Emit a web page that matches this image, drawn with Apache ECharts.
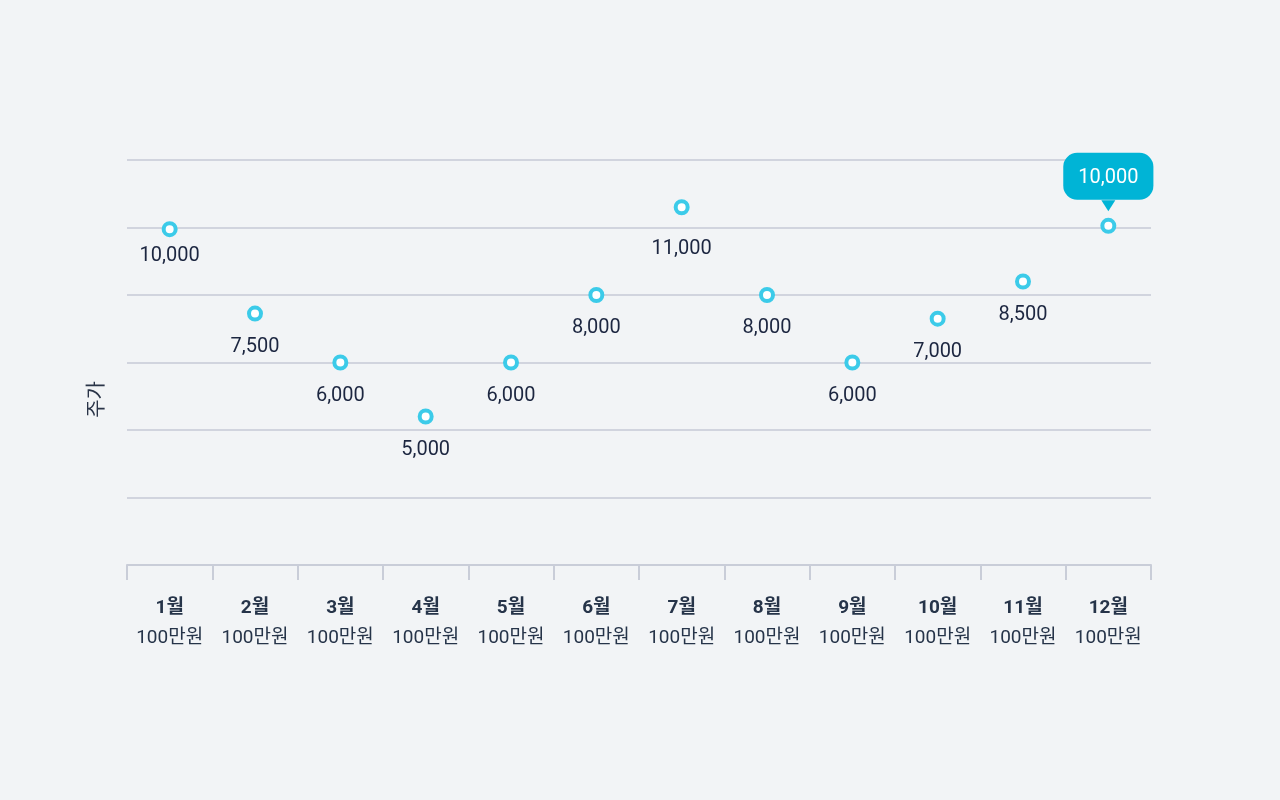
<!DOCTYPE html>
<html>
<head>
<meta charset="utf-8">
<script src="https://cdn.jsdelivr.net/npm/echarts@6/dist/echarts.min.js"></script>
<style>
  html, body { margin: 0; padding: 0; background: #f2f4f6; }
  #chart { width: 1280px; height: 800px; }
</style>
</head>
<body>
<div id="chart"></div>
<script>
var months = ['1월', '2월', '3월', '4월', '5월', '6월', '7월', '8월', '9월', '10월', '11월', '12월'];
var unitLabel = '100만원';
// where each point sits on the chart
var pointValues = [9950, 7450, 6000, 4400, 6000, 8000, 10600, 8000, 6000, 7300, 8400, 10050];
// the number printed next to each point
var labelValues = [10000, 7500, 6000, 5000, 6000, 8000, 11000, 8000, 6000, 7000, 8500, 10000];
var highlightIndex = 11;

var fontFamily = 'Roboto, "Noto Sans CJK KR", sans-serif';
var chart = echarts.init(document.getElementById('chart'));

// a couple of labels sit a little closer / further from their point
var labelGap = { 0: 9, 6: 24 };

var seriesData = pointValues.map(function (v, i) {
    var item = { value: v, labelText: labelValues[i].toLocaleString('en-US') };
    if (labelGap[i] !== undefined) {
        item.label = { distance: labelGap[i] };
    }
    if (i === highlightIndex) {
        item.label = {
            position: 'top',
            distance: 18,
            color: '#ffffff',
            backgroundColor: '#00b4d6',
            borderRadius: 14,
            padding: [15, 15, 12, 15]
        };
    }
    return item;
});

var option = {
    backgroundColor: '#f2f4f6',
    textStyle: { fontFamily: fontFamily },
    grid: { left: 127, right: 129, top: 160, bottom: 235 },
    xAxis: {
        type: 'category',
        data: months,
        boundaryGap: true,
        axisLine: { lineStyle: { color: '#c9cdd8', width: 2 } },
        axisTick: { show: true, length: 15, lineStyle: { color: '#c9cdd8', width: 2 } },
        axisLabel: {
            margin: 28,
            formatter: function (v) { return '{m|' + v + '}\n{n|' + unitLabel + '}'; },
            rich: {
                m: { fontSize: 19, fontWeight: 'bold', color: '#263449', lineHeight: 30, fontFamily: fontFamily },
                n: { fontSize: 19, color: '#263449', lineHeight: 30, fontFamily: fontFamily }
            }
        }
    },
    yAxis: {
        type: 'value',
        min: 0,
        max: 12000,
        interval: 2000,
        axisLine: { show: false },
        axisTick: { show: false },
        axisLabel: { show: false },
        splitLine: { lineStyle: { color: '#c6cad6', width: 1.5 } }
    },
    graphic: [{
        type: 'text',
        left: 88,
        top: 381,
        rotation: Math.PI / 2,
        style: { text: '주가', fontSize: 20, fill: '#2a3448', fontFamily: fontFamily }
    }],
    series: [{
        type: 'scatter',
        data: seriesData,
        symbol: 'circle',
        symbolSize: 12,
        itemStyle: { color: '#ffffff', borderColor: '#3ccbe9', borderWidth: 4, opacity: 1 },
        label: {
            show: true,
            position: 'bottom',
            distance: 15,
            fontSize: 20,
            color: '#1c2640',
            fontFamily: fontFamily,
            formatter: function (p) { return p.data.labelText; }
        },
        markPoint: {
            symbol: 'triangle',
            symbolRotate: 180,
            symbolSize: [14, 11],
            symbolOffset: [0, -20],
            itemStyle: { color: '#00b4d6' },
            label: { show: false },
            data: [{ coord: [highlightIndex, pointValues[highlightIndex]] }]
        },
        z: 3
    }]
};
chart.setOption(option);
</script>
</body>
</html>
